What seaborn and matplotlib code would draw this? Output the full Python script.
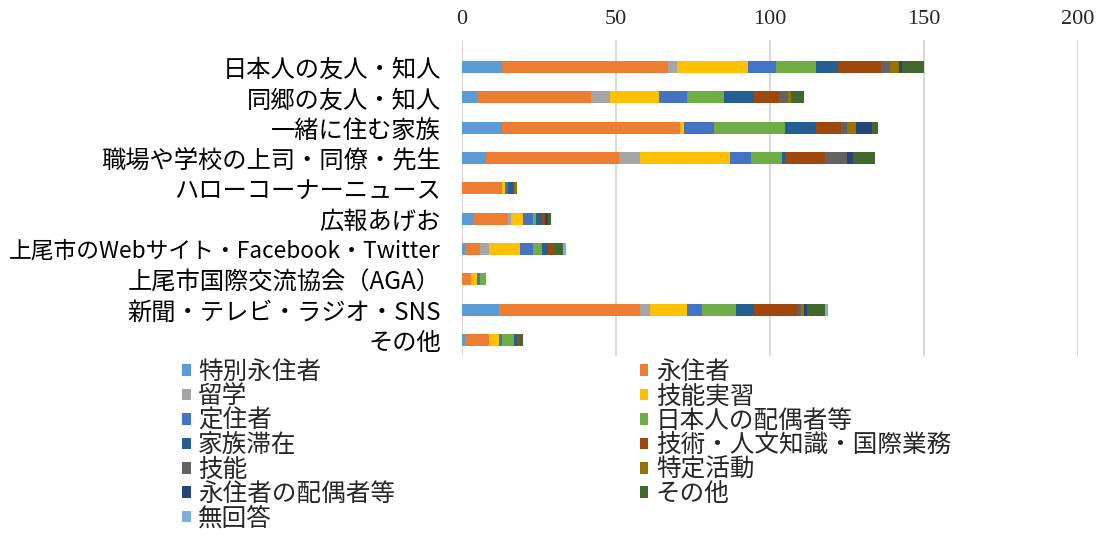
import numpy as np
import pandas as pd
import seaborn as sns
import matplotlib
matplotlib.use("Agg")
import matplotlib.pyplot as plt

categories = ["日本人の友人・知人", "同郷の友人・知人", "一緒に住む家族", "職場や学校の上司・同僚・先生",
              "ハローコーナーニュース", "広報あげお", "上尾市のWebサイト・Facebook・Twitter",
              "上尾市国際交流協会（AGA）", "新聞・テレビ・ラジオ・SNS", "その他"]
series = ["特別永住者", "永住者", "留学", "技能実習", "定住者", "日本人の配偶者等", "家族滞在",
          "技術・人文知識・国際業務", "技能", "特定活動", "永住者の配偶者等", "その他", "無回答"]
tokubetsu   = [13, 5, 13, 8, 0, 4, 1, 0, 12, 1]
eijusha     = [54, 37, 58, 43, 13, 11, 5, 3, 46, 8]
ryugaku     = [3, 6, 0, 7, 0, 1, 3, 0, 3, 0]
ginojisshu  = [23, 16, 1, 29, 1, 4, 10, 2, 12, 3]
teijusha    = [9, 9, 10, 7, 1, 3, 4, 1, 5, 1]
haigusha    = [13, 12, 23, 10, 0, 1, 3, 2, 11, 4]
kazoku      = [7, 10, 10, 1, 2, 2, 2, 0, 6, 1]
gijutsu     = [14, 8, 8, 13, 0, 1, 2, 0, 14, 1]
gino        = [3, 3, 2, 7, 0, 0, 0, 0, 1, 0]
tokutei     = [3, 1, 3, 0, 1, 0, 0, 0, 1, 0]
eiju_haigu  = [1, 0, 5, 2, 0, 1, 0, 0, 1, 0]
sonota      = [7, 4, 2, 7, 0, 1, 3, 0, 6, 1]
mukaito     = [0, 0, 0, 0, 0, 0, 1, 0, 1, 0]
values = [tokubetsu, eijusha, ryugaku, ginojisshu, teijusha, haigusha, kazoku,
          gijutsu, gino, tokutei, eiju_haigu, sonota, mukaito]
colors = ["#5B9BD5", "#ED7D31", "#A5A5A5", "#FFC000", "#4472C4", "#70AD47", "#255E91",
          "#9E480E", "#636363", "#997300", "#264478", "#43682B", "#7CAFDD"]
xticks = [0, 50, 100, 150, 200]

sns.set_theme(style="white")
plt.rcParams['font.family'] = ['Noto Sans CJK JP', 'DejaVu Sans']

fig = plt.figure(figsize=(11.03, 5.39), dpi=100)
ax = fig.add_axes([461.7 / 1103, 1 - 356 / 539, (1078 - 461.7) / 1103, 316 / 539])

df = pd.DataFrame(np.array(values).T, columns=series)
df["category"] = categories
cum = df[series].cumsum(axis=1)

for i in range(len(series) - 1, -1, -1):
    s = series[i]
    sns.barplot(x=cum[s], y=df["category"], order=categories, orient="h",
                color=colors[i], saturation=1, width=0.4, ax=ax, label=s, linewidth=0)

h, l = ax.get_legend_handles_labels()
if ax.get_legend() is not None:
    ax.get_legend().remove()

ax.set_xlim(0, 200)
ax.set_ylim(9.53, -0.89)
ax.set_xticks(xticks)
ax.set_xlabel("")
ax.set_ylabel("")
ax.xaxis.tick_top()
ax.grid(axis="x", color="#D9D9D9", linewidth=1.5)
ax.set_axisbelow(True)
for sp in ax.spines.values():
    sp.set_visible(False)
ax.tick_params(axis="x", length=0, pad=8, labelsize=16)
for lab in ax.get_xticklabels():
    lab.set_fontfamily("Liberation Serif")
ax.tick_params(axis="y", length=0, pad=15, labelsize=17.5, labelcolor="black")
for lab in ax.get_yticklabels():
    if "Twitter" in lab.get_text():
        lab.set_fontsize(16.4)

hm = dict(zip(l, h))
order = [0, 2, 4, 6, 8, 10, 12, 1, 3, 5, 7, 9, 11]
fig.legend([hm[series[i]] for i in order], [series[i] for i in order],
           loc="upper left", bbox_to_anchor=(182 / 1103, 1 - 359 / 539), ncol=2,
           frameon=False, fontsize=17.7, handlelength=0.35, handleheight=0.35,
           handletextpad=0.3, labelspacing=-0.065, columnspacing=9.96,
           borderpad=0, borderaxespad=0)

fig.savefig("out.png", dpi=100)
